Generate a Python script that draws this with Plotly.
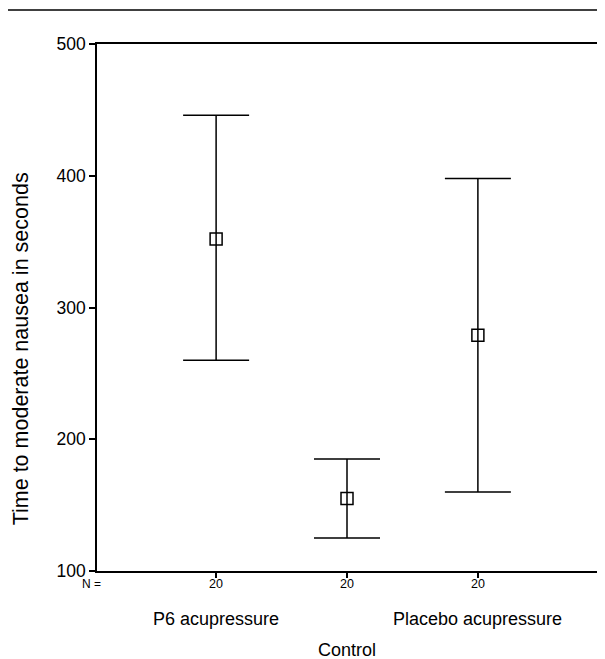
import plotly.graph_objects as go

groups = ["P6 acupressure", "Control", "Placebo acupressure"]
n_labels = ["20", "20", "20"]
means = [352, 155, 279]
lower = [260, 125, 160]
upper = [446, 185, 398]
y_ticks = [100, 200, 300, 400, 500]

xpos = [1, 2, 3]
err_plus = [u - m for u, m in zip(upper, means)]
err_minus = [m - l for m, l in zip(means, lower)]

FONT = "Liberation Sans, Arial, sans-serif"
PW, PH = 502, 527  # plot area size in px

fig = go.Figure()
fig.add_trace(go.Scatter(
    x=xpos, y=means, mode="markers",
    marker=dict(symbol="square-open", size=12, color="black", line=dict(width=1.5, color="black")),
    error_y=dict(type="data", symmetric=False, array=err_plus, arrayminus=err_minus,
                 color="black", thickness=1.5, width=33),
    showlegend=False,
))

fig.update_layout(
    width=597, height=651,
    margin=dict(l=89, r=6, t=36, b=88),
    paper_bgcolor="white", plot_bgcolor="white",
    font=dict(family=FONT, color="black"),
    xaxis=dict(range=[0.09, 3.91], tickvals=xpos, showticklabels=False,
               showline=True, linecolor="black", linewidth=1.5, mirror=True,
               ticks="outside", ticklen=5, tickcolor="black", tickwidth=1.5,
               showgrid=False, zeroline=False),
    yaxis=dict(range=[100, 500], tickvals=y_ticks,
               showline=True, linecolor="black", linewidth=1.5, mirror=True,
               ticks="outside", ticklen=6, tickcolor="black", tickwidth=1.5,
               showgrid=False, zeroline=False, tickfont=dict(size=17.5)),
)

# top rule line
fig.add_shape(type="line", xref="paper", yref="paper",
              x0=-100/PW, x1=1 + 10/PW, y0=1 + 34/PH, y1=1 + 34/PH,
              line=dict(color="black", width=1.5))

# y title
fig.add_annotation(text="Time to moderate nausea in seconds", textangle=-90,
                   xref="paper", yref="paper", x=-76/PW, y=(571 - 349)/PH,
                   showarrow=False, font=dict(size=21.5), xanchor="center", yanchor="middle")

fig.add_annotation(text="N =", xref="paper", yref="paper", x=-6/PW, y=-13/PH,
                   showarrow=False, font=dict(size=12), xanchor="center", yanchor="middle")

for xi, n in zip(xpos, n_labels):
    fig.add_annotation(text=n, xref="x", yref="paper", x=xi, y=-13/PH,
                       showarrow=False, font=dict(size=12.5), xanchor="center", yanchor="middle")

# staggered category labels
label_rows = [-48/PH, -79/PH, -48/PH]
for xi, g, yr in zip(xpos, groups, label_rows):
    fig.add_annotation(text=g, xref="x", yref="paper", x=xi, y=yr,
                       showarrow=False, font=dict(size=18), xanchor="center", yanchor="middle")

fig.write_html("out.html")
